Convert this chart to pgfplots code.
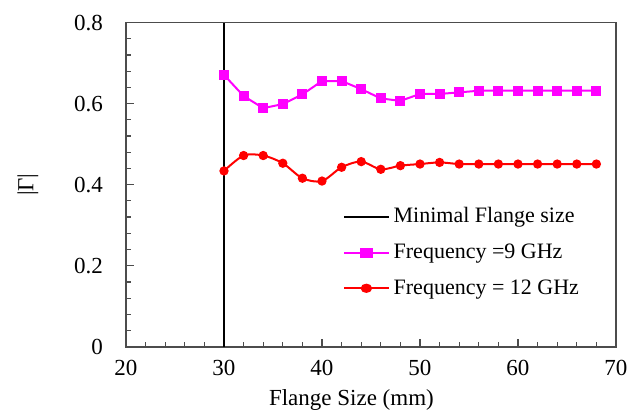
\documentclass[border=0pt]{standalone}
\usepackage{fontspec}
\setmainfont{Liberation Serif}
\usepackage{pgfplots}
\pgfplotsset{compat=1.18}
\definecolor{mag}{RGB}{255,0,255}
\definecolor{rd}{RGB}{255,0,0}
\begin{document}
\begin{tikzpicture}
\path[use as bounding box] (-63pt,-32.65pt) rectangle (253pt,173.35pt);
\begin{axis}[
  at={(0pt,0pt)}, anchor=south west,
  scale only axis, width=245pt, height=162pt,
  xmin=20, xmax=70, ymin=0, ymax=0.8,
  xtick={20,30,40,50,60,70}, ytick={0,0.2,0.4,0.6,0.8},
  minor x tick num=4, minor y tick num=4,
  xtick pos=left, ytick pos=left,
  tick align=inside,
  major tick length=4pt, minor tick length=2.5pt,
  axis line style={draw=black!70, line width=0.8pt},
  tick style={draw=black!70, line width=0.6pt},
  yticklabel style={/pgf/number format/fixed, /pgf/number format/precision=1, xshift=-8pt},
  xticklabel style={yshift=-3pt},
  /pgf/number format/assume math mode=true,
  font=\rmfamily\fontsize{11.5}{13}\selectfont,
  xlabel={Flange Size (mm)},
  ylabel={|Γ|},
  xlabel style={at={(axis description cs:0.46,-0.165)}, anchor=center},
  ylabel style={at={(axis description cs:-0.2,0.5)}, anchor=center},
  legend style={draw=none, fill=none, at={(axis description cs:0.43,0.455)}, anchor=north west,
    font=\rmfamily\fontsize{11}{13}\selectfont, row sep=5pt, cells={anchor=west}},
  legend cell align=left,
  legend image post style={xscale=1.3},
]
\addplot[black, line width=1.1pt] coordinates {(30,0) (30,0.8)};
\addlegendentry{Minimal Flange size}
\addplot[mag, line width=1pt, mark=square*, mark size=2pt, mark options={solid, fill=mag}] coordinates {
(30,0.671) (32,0.619) (34,0.589) (36,0.599) (38,0.623) (40,0.656) (42,0.656) (44,0.636) (46,0.613) (48,0.607)
(50,0.624) (52,0.624) (54,0.628) (56,0.632) (58,0.632) (60,0.632) (62,0.632) (64,0.632) (66,0.632) (68,0.632)};
\addlegendentry{Frequency =9 GHz}
\addplot[rd, line width=1pt, smooth, mark=*, mark size=1.8pt, mark options={fill=rd}] coordinates {
(30,0.434) (32,0.472) (34,0.472) (36,0.453) (38,0.416) (40,0.409) (42,0.443) (44,0.457) (46,0.438) (48,0.447)
(50,0.451) (52,0.455) (54,0.451) (56,0.451) (58,0.451) (60,0.451) (62,0.451) (64,0.451) (66,0.451) (68,0.451)};
\addlegendentry{Frequency = 12 GHz}
\end{axis}
\end{tikzpicture}
\end{document}
